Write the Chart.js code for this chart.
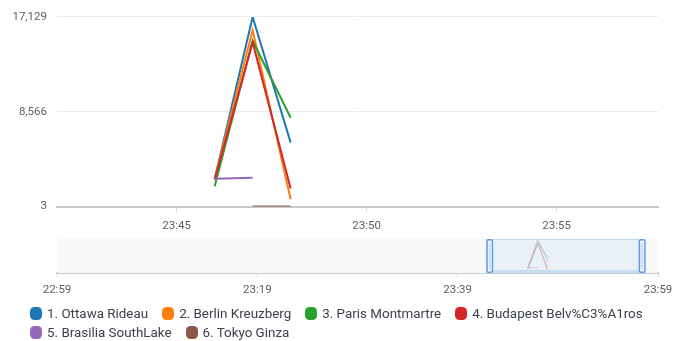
<!DOCTYPE html>
<html>
<head>
<meta charset="utf-8">
<script src="https://cdn.jsdelivr.net/npm/chart.js@4/dist/chart.umd.min.js"></script>
<style>
  body { margin: 0; background: #fff; width: 685px; height: 341px; overflow: hidden; position: relative; font-family: Roboto, sans-serif; }
  #main-chart { position: absolute; left: 0; top: 0; }
  #nav-chart { position: absolute; left: 0; top: 230px; }
  #legend { position: absolute; left: 30px; top: 304px; }
  .row { display: flex; height: 19px; align-items: center; white-space: nowrap; }
  .item { display: flex; align-items: center; margin-right: 14px; font-size: 13.4px; color: #3b414a; }
  .swatch { width: 12px; height: 13px; border-radius: 4.5px; margin-right: 5px; }
</style>
</head>
<body>
<canvas id="main-chart" width="685" height="240"></canvas>
<canvas id="nav-chart" width="685" height="70"></canvas>
<div id="legend"></div>
<script>
// times are minutes since midnight
const times = [1426, 1427, 1428];
const seriesNames = [
  "1. Ottawa Rideau",
  "2. Berlin Kreuzberg",
  "3. Paris Montmartre",
  "4. Budapest Belv%C3%A1ros",
  "5. Brasilia SouthLake",
  "6. Tokyo Ginza",
];
const colors = ["#1f77b4", "#ff7f0e", "#2ca02c", "#d62728", "#9467bd", "#8c564b"];
const ottawa = [2460, 17129, 5770];
const berlin = [2480, 15930, 650];
const paris = [1840, 14980, 8020];
const budapest = [2440, 14820, 1640];
const brasilia = [2500, 2590, null];
const tokyo = [null, 3, 3];
const series = [ottawa, berlin, paris, budapest, brasilia, tokyo];

const yTicks = [3, 8566, 17129];
const mainTicks = [1425, 1430, 1435];
const navTicks = [1379, 1399, 1419, 1439];
const mainRange = [1421.85, 1437.67];
const navRange = [1379, 1439];

const axisColor = "#575e68";
const tickFont = { family: "Roboto", size: 11.5 };

const fmtTime = (m) => {
  const h = Math.floor(m / 60);
  const mm = Math.round(m % 60);
  return String(h).padStart(2, "0") + ":" + String(mm).padStart(2, "0");
};

const makeDatasets = (alpha, width) =>
  series.map((values, i) => ({
    label: seriesNames[i],
    data: times.map((t, j) => ({ x: t, y: values[j] })),
    borderColor: colors[i] + alpha,
    backgroundColor: colors[i],
    borderWidth: width,
    pointRadius: 0,
    tension: 0,
    fill: false,
    order: series.length - i,
  }));

const fixedTicks = (list) => (scale) => {
  scale.ticks = list.map((v) => ({ value: v }));
};

new Chart(document.querySelector("#main-chart"), {
  type: "line",
  data: { datasets: makeDatasets("", 2) },
  options: {
    responsive: false,
    animation: false,
    devicePixelRatio: 1,
    layout: { padding: { top: 16, right: 27, bottom: 0, left: 0 } },
    plugins: { legend: { display: false }, tooltip: { enabled: false } },
    scales: {
      x: {
        type: "linear",
        min: mainRange[0],
        max: mainRange[1],
        afterBuildTicks: fixedTicks(mainTicks),
        afterFit: (s) => { s.height = 33.5; },
        ticks: { callback: (v) => fmtTime(v), color: axisColor, font: tickFont, padding: 8, maxRotation: 0, autoSkip: false },
        grid: { drawOnChartArea: false, drawTicks: true, tickLength: 5, color: "#d5dbdb" },
        border: { display: true, color: "#c8c8c8", width: 2 },
      },
      y: {
        min: 3,
        max: 17129,
        afterBuildTicks: fixedTicks(yTicks),
        afterFit: (s) => { s.width = 57; },
        ticks: { callback: (v) => v.toLocaleString("en-US"), color: axisColor, font: tickFont, padding: 10 },
        grid: { color: "#e9ebed", drawTicks: false },
        border: { display: false },
      },
    },
  },
});

// background of the overview strip and the selected window on top of it
const navigatorPlugin = {
  id: "navigator",
  beforeDatasetsDraw(chart) {
    const { ctx, chartArea: a } = chart;
    ctx.save();
    ctx.fillStyle = "#f8f8f8";
    ctx.fillRect(a.left, a.top, a.right - a.left, a.bottom - a.top);
    ctx.restore();
  },
  afterDatasetsDraw(chart) {
    const { ctx, chartArea: a, scales } = chart;
    const x0 = scales.x.getPixelForValue(mainRange[0]);
    const x1 = scales.x.getPixelForValue(mainRange[1]);
    ctx.save();
    ctx.fillStyle = "rgba(222, 234, 247, 0.55)";
    ctx.fillRect(x0, a.top, x1 - x0, a.bottom - a.top);
    ctx.strokeStyle = "#c4d9f0";
    ctx.lineWidth = 1;
    ctx.beginPath();
    ctx.moveTo(x0, a.top + 0.5);
    ctx.lineTo(x1, a.top + 0.5);
    ctx.stroke();
    ctx.fillStyle = "#c9dcf1";
    ctx.fillRect(x0, a.bottom - 3, x1 - x0, 3);
    // drag handles
    [x0, x1 - 6].forEach((hx) => {
      ctx.fillStyle = "#eef5fc";
      ctx.strokeStyle = "#5d9be0";
      ctx.lineWidth = 1.5;
      ctx.beginPath();
      ctx.roundRect(hx + 0.75, a.top + 0.75, 5.5, a.bottom - a.top - 1.5, 1.5);
      ctx.fill();
      ctx.stroke();
      ctx.strokeStyle = "#a9c9ef";
      ctx.lineWidth = 1;
      ctx.beginPath();
      ctx.moveTo(hx + 3.5, a.top + 4);
      ctx.lineTo(hx + 3.5, a.bottom - 4);
      ctx.stroke();
    });
    ctx.restore();
  },
};

new Chart(document.querySelector("#nav-chart"), {
  type: "line",
  data: { datasets: makeDatasets("99", 1) },
  plugins: [navigatorPlugin],
  options: {
    responsive: false,
    animation: false,
    devicePixelRatio: 1,
    layout: { padding: { top: 9, right: 27, bottom: 0, left: 57 } },
    plugins: { legend: { display: false }, tooltip: { enabled: false } },
    scales: {
      x: {
        type: "linear",
        min: navRange[0],
        max: navRange[1],
        afterBuildTicks: fixedTicks(navTicks),
        afterFit: (s) => { s.height = 27; },
        ticks: { callback: (v) => fmtTime(v), color: axisColor, font: tickFont, padding: 6, maxRotation: 0, autoSkip: false },
        grid: { drawOnChartArea: false, drawTicks: true, tickLength: 4, color: "#d5dbdb" },
        border: { display: true, color: "#c8c8c8", width: 2 },
      },
      y: { display: false, min: 3, max: 17129 },
    },
  },
});

// legend, four entries on the first row and two on the second
const legend = document.querySelector("#legend");
[[0, 4], [4, 6]].forEach(([from, to]) => {
  const row = document.createElement("div");
  row.className = "row";
  seriesNames.slice(from, to).forEach((name, k) => {
    const item = document.createElement("div");
    item.className = "item";
    item.innerHTML = `<span class="swatch" style="background:${colors[from + k]}"></span>${name}`;
    row.appendChild(item);
  });
  legend.appendChild(row);
});
</script>
</body>
</html>
